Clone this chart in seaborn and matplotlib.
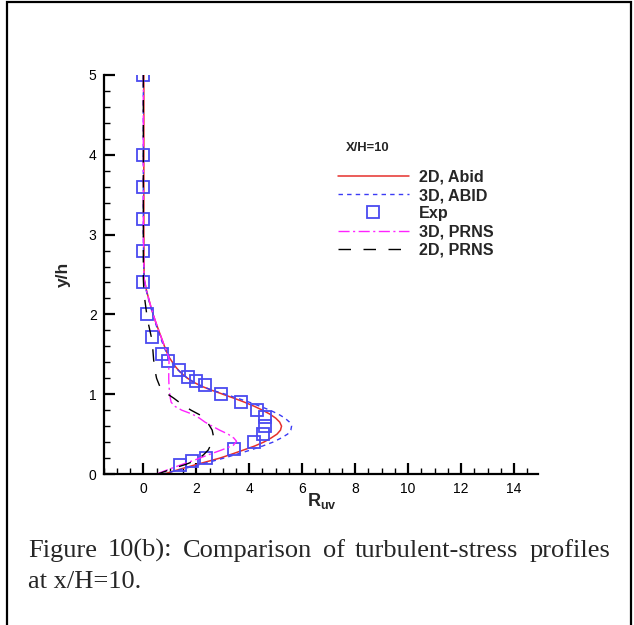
import matplotlib
matplotlib.use("Agg")
import matplotlib.pyplot as plt
import seaborn as sns
from matplotlib.patches import Rectangle
from matplotlib.ticker import MultipleLocator

# ---- data -------------------------------------------------------------
# Experimental points (R_uv, y/h)
exp_x = [0.0, 0.0, 0.0, 0.0, 0.0, 0.0, 0.13, 0.33, 0.72, 0.95, 1.35, 1.70, 2.0,
         2.33, 2.93, 3.68, 4.31, 4.61, 4.61, 4.51, 4.18, 3.41, 2.37, 1.83, 1.40]
exp_y = [5.0, 4.0, 3.6, 3.2, 2.8, 2.4, 2.0, 1.72, 1.5, 1.41, 1.3, 1.21, 1.16,
         1.11, 1.0, 0.9, 0.8, 0.71, 0.6, 0.5, 0.4, 0.31, 0.2, 0.16, 0.11]

# 2D, Abid
abid2d_y = [5.0, 4.0, 3.0, 2.45, 2.3, 2.2, 2.1, 2.0, 1.9, 1.8, 1.7, 1.6, 1.5, 1.45,
            1.4, 1.35, 1.3, 1.25, 1.2, 1.15, 1.1, 1.05, 1.0, 0.95, 0.9, 0.85, 0.8,
            0.75, 0.7, 0.65, 0.6, 0.55, 0.5, 0.45, 0.4, 0.35, 0.3, 0.25, 0.2, 0.15,
            0.1, 0.05, 0.0]
abid2d_x = [0.02, 0.02, 0.02, 0.03, 0.12, 0.2, 0.28, 0.37, 0.47, 0.58, 0.69, 0.8, 0.92,
            1.0, 1.1, 1.2, 1.33, 1.48, 1.67, 1.9, 2.2, 2.58, 3.0, 3.42, 3.82, 4.18, 4.5,
            4.78, 5.0, 5.15, 5.22, 5.18, 5.05, 4.82, 4.55, 4.2, 3.78, 3.35, 2.9, 2.35,
            1.8, 1.28, 0.78]

# 3D, ABID
abid3d_y = [5.0, 4.0, 3.0, 2.45, 2.3, 2.2, 2.1, 2.0, 1.9, 1.8, 1.7, 1.6, 1.5, 1.45,
            1.4, 1.35, 1.3, 1.25, 1.2, 1.15, 1.1, 1.05, 1.0, 0.95, 0.9, 0.85, 0.8,
            0.75, 0.7, 0.65, 0.6, 0.55, 0.5, 0.45, 0.4, 0.35, 0.3, 0.25, 0.2, 0.15,
            0.1, 0.05, 0.0]
abid3d_x = [0.0, 0.0, 0.0, 0.02, 0.11, 0.19, 0.27, 0.36, 0.45, 0.55, 0.66, 0.77, 0.9,
            0.98, 1.08, 1.19, 1.32, 1.48, 1.67, 1.92, 2.22, 2.6, 3.1, 3.55, 4.0, 4.4,
            4.78, 5.1, 5.35, 5.52, 5.6, 5.57, 5.45, 5.2, 4.9, 4.5, 4.05, 3.55, 3.05,
            2.5, 1.92, 1.33, 0.72]

# 3D, PRNS
prns3d_y = [5.0, 4.0, 3.0, 2.45, 2.3, 2.2, 2.0, 1.8, 1.6, 1.5, 1.45, 1.4, 1.3, 1.2,
            1.1, 1.0, 0.95, 0.9, 0.85, 0.8, 0.75, 0.7, 0.65, 0.6, 0.55, 0.5, 0.45,
            0.41, 0.36, 0.3, 0.24, 0.18, 0.13, 0.07, 0.0]
prns3d_x = [0.0, 0.0, 0.0, 0.03, 0.12, 0.2, 0.37, 0.58, 0.8, 0.92, 0.97, 0.97, 0.96,
            0.96, 0.97, 1.0, 1.02, 1.05, 1.18, 1.45, 1.85, 2.12, 2.33, 2.6, 2.88, 3.2,
            3.42, 3.52, 3.4, 2.95, 2.45, 1.98, 1.55, 1.05, 0.5]

# 2D, PRNS
prns2d_y = [5.0, 4.0, 3.0, 2.45, 2.3, 2.2, 2.0, 1.9, 1.72, 1.6, 1.43, 1.3, 1.2, 1.1,
            1.01, 0.95, 0.86, 0.8, 0.74, 0.65, 0.55, 0.47, 0.4, 0.3, 0.24, 0.175,
            0.12, 0.07, 0.03, 0.0]
prns2d_x = [0.0, 0.0, 0.0, 0.0, 0.02, 0.05, 0.13, 0.18, 0.3, 0.35, 0.39, 0.44, 0.5,
            0.62, 0.88, 1.15, 1.51, 1.8, 2.14, 2.42, 2.6, 2.65, 2.6, 2.45, 2.27, 2.02,
            1.6, 1.13, 0.8, 0.55]

x_ticks = [0, 2, 4, 6, 8, 10, 12, 14]
y_ticks = [0, 1, 2, 3, 4, 5]

caption_line1 = "Figure 10(b): Comparison of turbulent-stress profiles"
caption_line2 = "at x/H=10."

# ---- style ------------------------------------------------------------
sns.set_style("ticks")
plt.rcParams["font.family"] = ["Liberation Sans", "DejaVu Sans"]
plt.rcParams["mathtext.fontset"] = "custom"
plt.rcParams["mathtext.bf"] = "Liberation Sans:bold"
plt.rcParams["mathtext.rm"] = "Liberation Sans"

W, H = 634, 625
fig = plt.figure(figsize=(W / 100, H / 100), dpi=100)
fig.patch.set_facecolor("white")

# axes placed in pixel terms: x=-1.5 at 103.6 px, 26.48 px per unit; y 0..5 from 474 to 75 px
x0, x1 = -1.5, 14.9
ax_left = 103.6
ax_w = (x1 - x0) * 26.48
ax = fig.add_axes([ax_left / W, 1 - 474 / H, ax_w / W, (474 - 75) / H])
ax.set_facecolor("white")

red = "#e5302c"
blue = "#3b3bf5"
magenta = "#ff22ff"

sns.lineplot(x=abid2d_x, y=abid2d_y, sort=False, estimator=None, ax=ax,
             color=red, lw=1.1, label="2D, Abid")
sns.lineplot(x=abid3d_x, y=abid3d_y, sort=False, estimator=None, ax=ax,
             color=blue, lw=1.0, dashes=(3.2, 3.0), label="3D, ABID")
sns.lineplot(x=exp_x, y=exp_y, sort=False, estimator=None, ax=ax,
             color=blue, marker="s", ls="", ms=8, mfc="none", mec="#4a4af0",
             mew=1.3, label="Exp")
sns.lineplot(x=prns3d_x, y=prns3d_y, sort=False, estimator=None, ax=ax,
             color=magenta, lw=1.0, dashes=(8, 2.5, 1.5, 2.5), label="3D, PRNS")
sns.lineplot(x=prns2d_x, y=prns2d_y, sort=False, estimator=None, ax=ax,
             color="black", lw=1.0, dashes=(9, 9), label="2D, PRNS")

ax.set_xlim(x0, x1)
ax.set_ylim(0, 5)
ax.set_xticks(x_ticks)
ax.set_yticks(y_ticks)
ax.xaxis.set_minor_locator(MultipleLocator(0.5))
ax.yaxis.set_minor_locator(MultipleLocator(0.2))

for s in ("top", "right"):
    ax.spines[s].set_visible(False)
for s in ("left", "bottom"):
    ax.spines[s].set_linewidth(1.6)
    ax.spines[s].set_color("black")

ax.tick_params(which="major", direction="in", length=8, width=1.6,
               labelsize=10, colors="black")
ax.tick_params(which="minor", direction="in", length=4.3, width=1.0, colors="black")
ax.tick_params(axis="x", which="major", pad=5.5)
ax.tick_params(axis="y", which="major", pad=5)
ax.grid(False)

ax.set_xlabel(r"$\mathbf{R}_{\mathbf{uv}}$", fontsize=13)
ax.xaxis.set_label_coords((322 - ax_left) / ax_w, (474 - 491) / 399)
ax.set_ylabel("y/h", fontsize=12.5, fontweight="bold")
ax.yaxis.set_label_coords((71 - ax_left) / ax_w, (474 - 274) / 399)

# legend with its heading
leg = ax.legend(loc="upper left", bbox_to_anchor=(338 / W, 1 - 170 / H),
                bbox_transform=fig.transFigure, frameon=False,
                prop={"family": "Liberation Sans", "weight": "bold", "size": 11.6},
                handlelength=4.4, handletextpad=0.62, labelspacing=0.19,
                borderpad=0, borderaxespad=0, numpoints=1)
fig.text(346 / W, 1 - 148 / H, "X/H=10", fontsize=9.4, fontweight="bold",
         ha="left", va="center")

# caption, first line justified between two margins
cap_left, cap_right = 28, 610
words = caption_line1.split(" ")
cap_kw = dict(fontsize=19, family="Liberation Serif", va="baseline", ha="left")
texts = [fig.text(0, 1 - 557 / H, w, **cap_kw) for w in words]
fig.canvas.draw()
renderer = fig.canvas.get_renderer()
widths = [t.get_window_extent(renderer).width for t in texts]
gap = (cap_right - cap_left - sum(widths)) / (len(words) - 1)
xpos = cap_left
for t, w in zip(texts, widths):
    t.set_x(xpos / W)
    xpos += w + gap
fig.text(cap_left / W, 1 - 588 / H, caption_line2, **cap_kw)

# page frame
fig.patches.append(Rectangle((7 / W, -0.02), (631 - 7) / W, (H - 2) / H + 0.02,
                             transform=fig.transFigure, fill=False,
                             edgecolor="black", lw=1.6))

fig.savefig("out.png", dpi=100, facecolor="white")
